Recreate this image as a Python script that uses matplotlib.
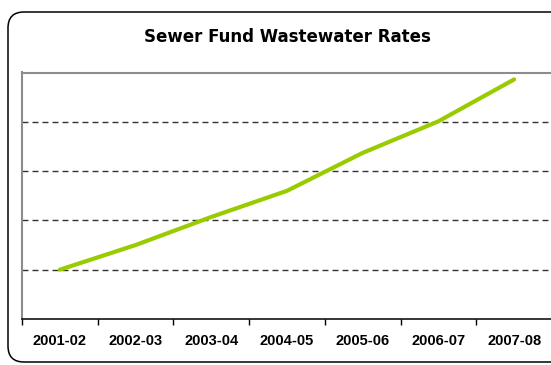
import matplotlib
matplotlib.use("Agg")
import matplotlib.pyplot as plt
import matplotlib.patches as mpatches
import matplotlib.transforms as mtransforms

# fiscal years and rate index (no y labels shown)
years = ["2001-02", "2002-03", "2003-04", "2004-05", "2005-06", "2006-07", "2007-08"]
rates = [1.0, 1.50, 2.07, 2.60, 3.37, 4.01, 4.86]
grid_levels = [1, 2, 3, 4]

plt.rcParams['font.family'] = ['Liberation Sans', 'DejaVu Sans']

fig = plt.figure(figsize=(5.51, 3.65), dpi=100)
fig.patch.set_facecolor("white")

# rounded chart frame, drawn in pixel coords (runs off the right/bottom edge)
frame = mpatches.FancyBboxPatch((8, 3), 620, 350,
                                boxstyle="round,pad=0,rounding_size=16",
                                facecolor="none", edgecolor="black", linewidth=1.1,
                                transform=mtransforms.IdentityTransform())
fig.add_artist(frame)

ax = fig.add_axes([22 / 551, 46 / 365, 530 / 551, 246.5 / 365])
x = list(range(len(years)))

for g in grid_levels:
    ax.axhline(g, color="#333333", linewidth=1.0, dashes=(4.3, 2.9), zorder=1)

ax.plot(x, rates, color="#99CC00", linewidth=3.0, solid_capstyle="round", zorder=3)

ax.set_xlim(-0.5, len(years) - 0.5)
ax.set_ylim(0, 5)
ax.set_yticks([])

ax.set_xticks([i - 0.5 for i in range(len(years) + 1)])
ax.set_xticklabels([])
ax.set_xticks(x, minor=True)
ax.set_xticklabels(years, minor=True, fontsize=10.5, fontweight="bold")
ax.tick_params(axis="x", which="major", direction="out", length=4, width=1, color="black")
ax.tick_params(axis="x", which="minor", length=0, pad=10.5)

ax.spines["bottom"].set_color("black")
ax.spines["bottom"].set_linewidth(1.1)
for s in ["left", "top", "right"]:
    ax.spines[s].set_color("#8c8c8c")
    ax.spines[s].set_linewidth(1.5)

fig.text(287 / 551, (365 - 42) / 365, "Sewer Fund Wastewater Rates",
         ha="center", va="baseline", fontsize=12, fontweight="bold",
         family="DejaVu Sans")

fig.savefig("out.png", dpi=100)
